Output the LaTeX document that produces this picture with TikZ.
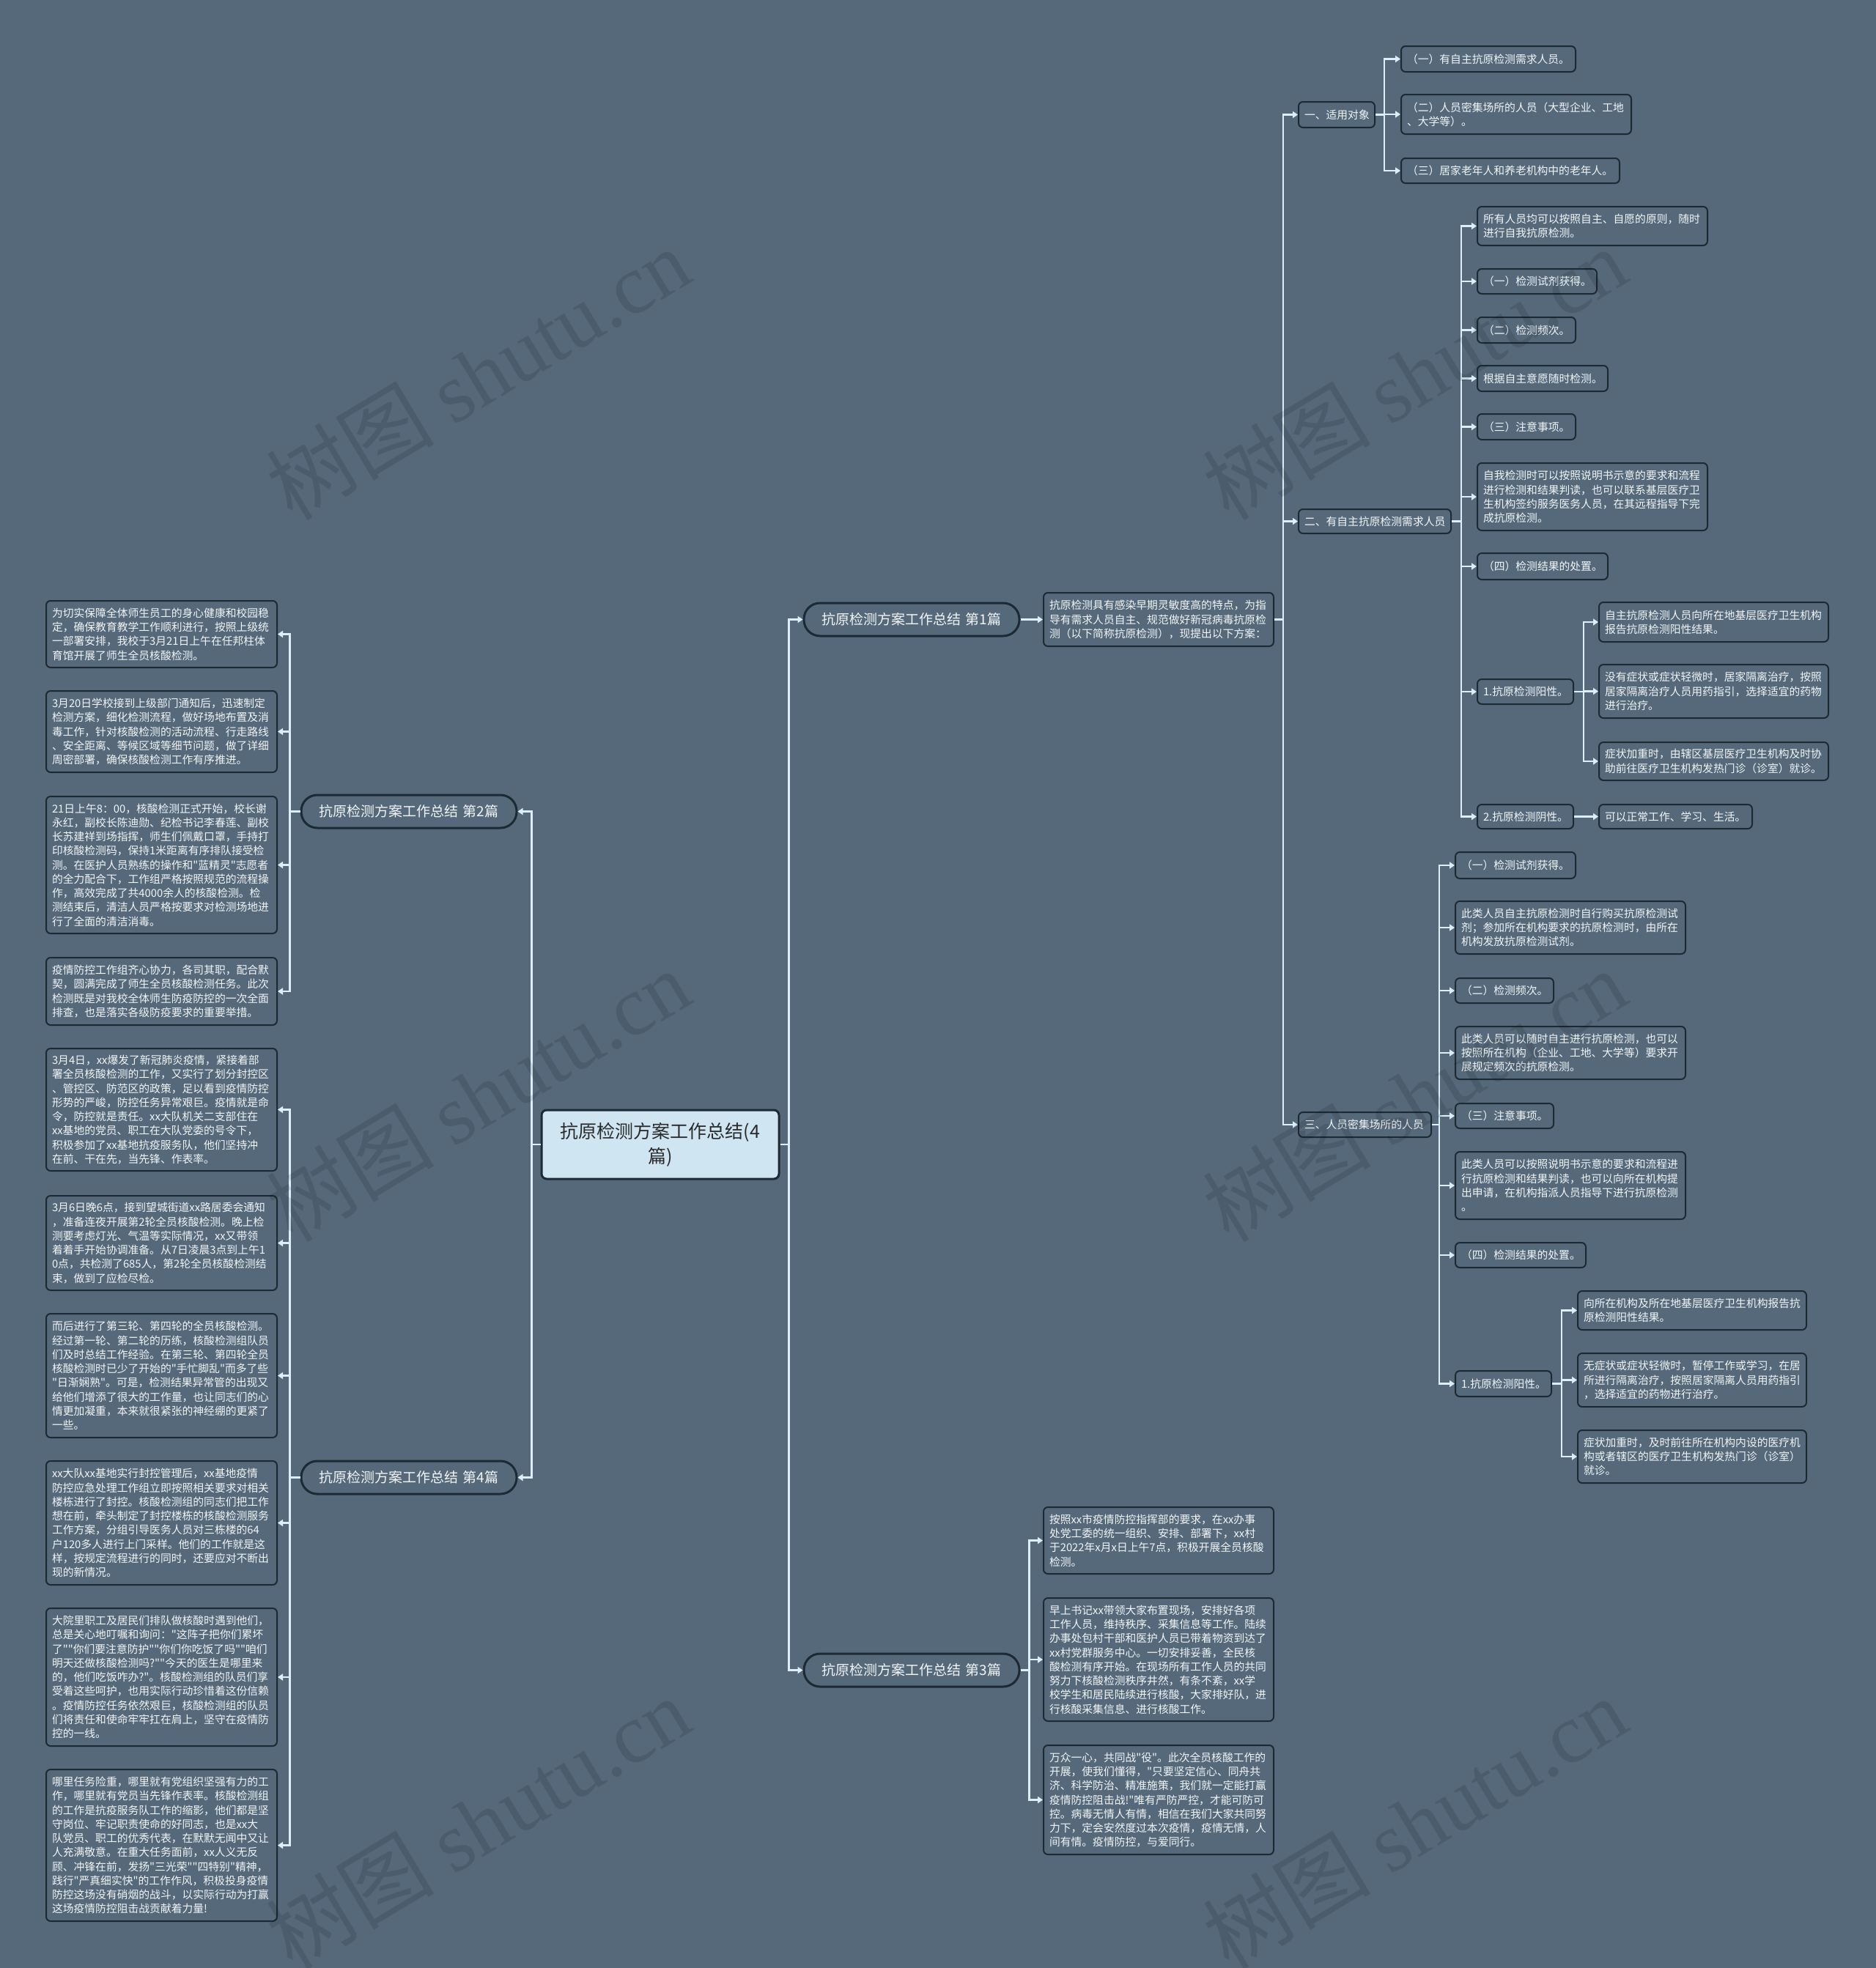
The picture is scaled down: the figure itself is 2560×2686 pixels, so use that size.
\documentclass[tikz,border=0pt]{standalone}
\usepackage{fontspec}
\newfontfamily\cjkmain{Noto Sans CJK SC}
\setmainfont{Noto Sans CJK SC}[Ligatures=TeXOff]
\newfontfamily\wmlatin{Liberation Serif}
\usetikzlibrary{arrows.meta}
\definecolor{bgC}{HTML}{55697A}
\definecolor{boxB}{HTML}{1E2A33}
\definecolor{lineC}{HTML}{DCEFF9}
\definecolor{txtC}{HTML}{F2F5F7}
\definecolor{rootC}{HTML}{CFE5F1}
\definecolor{rootT}{HTML}{2A2A2A}
\tikzset{
 box/.style={draw=boxB, line width=2pt, rounded corners=6pt, fill=bgC, text=txtC, inner xsep=8pt, inner ysep=0pt, align=left, font=\cjkmain\fontsize{14.8pt}{19.25pt}\selectfont},
 pill/.style={draw=boxB, line width=3pt, rounded corners=22pt, fill=bgC, text=txtC, inner xsep=8pt, inner ysep=0pt, align=center, font=\cjkmain\fontsize{19pt}{23pt}\selectfont},
 rootn/.style={draw=boxB, line width=3pt, rounded corners=7pt, fill=rootC, text=rootT, inner xsep=8pt, inner ysep=0pt, align=center, font=\cjkmain\fontsize{25pt}{34pt}\selectfont},
 conn/.style={draw=lineC, line width=2.2pt, -{Triangle[length=7pt,width=9pt]}},
 wm/.style={text=black, text opacity=0.11, inner sep=0pt, font=\cjkmain\fontsize{115pt}{115pt}\selectfont}
}
\newcommand{\nd}[7]{%
 \pgfmathsetmacro{\ndW}{#5-#3}\pgfmathsetmacro{\ndH}{#6-#4}%
 \pgfmathsetmacro{\ndT}{#5-#3-16}%
 \pgfmathsetmacro{\ndX}{(#3+#5)/2}\pgfmathsetmacro{\ndY}{(#4+#6)/2}%
 \node[#1, minimum width=\ndW pt, minimum height=\ndH pt, text width=\ndT pt] (#2) at (\ndX,\ndY) {#7};}
\begin{document}
\begin{tikzpicture}[x=1pt,y=-1pt]
\fill[bgC] (0,0) rectangle (2560,2686);
\useasboundingbox (0,0) rectangle (2560,2686);

% root and branches
\nd{rootn}{root}{739}{1515}{1063}{1609}{抗原检测方案工作总结(4\\篇)}
\nd{pill}{P1}{1097}{823}{1391}{868}{抗原检测方案工作总结 第1篇}
\nd{pill}{P3}{1097}{2257}{1391}{2302}{抗原检测方案工作总结 第3篇}
\nd{pill}{P2}{411}{1085}{705}{1130}{抗原检测方案工作总结 第2篇}
\nd{pill}{P4}{411}{1994}{705}{2039}{抗原检测方案工作总结 第4篇}

% branch 1
\nd{box}{T1}{1424}{809}{1738}{882}{抗原检测具有感染早期灵敏度高的特点，为指\\导有需求人员自主、规范做好新冠病毒抗原检\\测（以下简称抗原检测），现提出以下方案：}
\nd{box}{R1}{1772}{139}{1876}{174}{一、适用对象}
\nd{box}{R1a}{1912}{63}{2150}{98}{（一）有自主抗原检测需求人员。}
\nd{box}{R1b}{1912}{129}{2226}{183}{（二）人员密集场所的人员（大型企业、工地\\、大学等）。}
\nd{box}{R1c}{1912}{216}{2210}{250}{（三）居家老年人和养老机构中的老年人。}
\nd{box}{R2}{1772}{695}{1980}{728}{二、有自主抗原检测需求人员}
\nd{box}{R2a}{2016}{282}{2330}{335}{所有人员均可以按照自主、自愿的原则，随时\\进行自我抗原检测。}
\nd{box}{R2b}{2016}{367}{2179}{401}{（一）检测试剂获得。}
\nd{box}{R2c}{2016}{433}{2150}{468}{（二）检测频次。}
\nd{box}{R2d}{2016}{499}{2194}{534}{根据自主意愿随时检测。}
\nd{box}{R2e}{2016}{565}{2150}{600}{（三）注意事项。}
\nd{box}{R2f}{2016}{632}{2330}{724}{自我检测时可以按照说明书示意的要求和流程\\进行检测和结果判读，也可以联系基层医疗卫\\生机构签约服务医务人员，在其远程指导下完\\成抗原检测。}
\nd{box}{R2g}{2016}{755}{2194}{791}{（四）检测结果的处置。}
\nd{box}{R2h}{2016}{927}{2147}{961}{1.抗原检测阳性。}
\nd{box}{R2ha}{2182}{822}{2495}{876}{自主抗原检测人员向所在地基层医疗卫生机构\\报告抗原检测阳性结果。}
\nd{box}{R2hb}{2182}{907}{2495}{980}{没有症状或症状轻微时，居家隔离治疗，按照\\居家隔离治疗人员用药指引，选择适宜的药物\\进行治疗。}
\nd{box}{R2hc}{2182}{1013}{2495}{1065}{症状加重时，由辖区基层医疗卫生机构及时协\\助前往医疗卫生机构发热门诊（诊室）就诊。}
\nd{box}{R2i}{2016}{1098}{2147}{1131}{2.抗原检测阴性。}
\nd{box}{R2ia}{2182}{1098}{2391}{1131}{可以正常工作、学习、生活。}
\nd{box}{R3}{1772}{1518}{1953}{1552}{三、人员密集场所的人员}
\nd{box}{R3a}{1986}{1163}{2150}{1199}{（一）检测试剂获得。}
\nd{box}{R3b}{1986}{1230}{2300}{1302}{此类人员自主抗原检测时自行购买抗原检测试\\剂；参加所在机构要求的抗原检测时，由所在\\机构发放抗原检测试剂。}
\nd{box}{R3c}{1986}{1335}{2120}{1369}{（二）检测频次。}
\nd{box}{R3d}{1986}{1401}{2300}{1473}{此类人员可以随时自主进行抗原检测，也可以\\按照所在机构（企业、工地、大学等）要求开\\展规定频次的抗原检测。}
\nd{box}{R3e}{1986}{1506}{2120}{1540}{（三）注意事项。}
\nd{box}{R3f}{1986}{1572}{2300}{1664}{此类人员可以按照说明书示意的要求和流程进\\行抗原检测和结果判读，也可以向所在机构提\\出申请，在机构指派人员指导下进行抗原检测\\。}
\nd{box}{R3g}{1986}{1696}{2164}{1730}{（四）检测结果的处置。}
\nd{box}{R3h}{1986}{1871}{2117}{1906}{1.抗原检测阳性。}
\nd{box}{R3ha}{2153}{1762}{2465}{1815}{向所在机构及所在地基层医疗卫生机构报告抗\\原检测阳性结果。}
\nd{box}{R3hb}{2153}{1847}{2465}{1920}{无症状或症状轻微时，暂停工作或学习，在居\\所进行隔离治疗，按照居家隔离人员用药指引\\，选择适宜的药物进行治疗。}
\nd{box}{R3hc}{2153}{1952}{2465}{2024}{症状加重时，及时前往所在机构内设的医疗机\\构或者辖区的医疗卫生机构发热门诊（诊室）\\就诊。}

% branch 3
\nd{box}{M1}{1424}{2057}{1738}{2148}{按照xx市疫情防控指挥部的要求，在xx办事\\处党工委的统一组织、安排、部署下，xx村\\于2022年x月x日上午7点，积极开展全员核酸\\检测。}
\nd{box}{M2}{1424}{2181}{1738}{2349}{早上书记xx带领大家布置现场，安排好各项\\工作人员，维持秩序、采集信息等工作。陆续\\办事处包村干部和医护人员已带着物资到达了\\xx村党群服务中心。一切安排妥善，全民核\\酸检测有序开始。在现场所有工作人员的共同\\努力下核酸检测秩序井然，有条不紊，xx学\\校学生和居民陆续进行核酸，大家排好队，进\\行核酸采集信息、进行核酸工作。}
\nd{box}{M3}{1424}{2382}{1738}{2531}{万众一心，共同战"役"。此次全员核酸工作的\\开展，使我们懂得，"只要坚定信心、同舟共\\济、科学防治、精准施策，我们就一定能打赢\\疫情防控阻击战!"唯有严防严控，才能可防可\\控。病毒无情人有情，相信在我们大家共同努\\力下，定会安然度过本次疫情，疫情无情，人\\间有情。疫情防控，与爱同行。}

% branch 2
\nd{box}{L1}{63}{820}{378}{911}{为切实保障全体师生员工的身心健康和校园稳\\定，确保教育教学工作顺利进行，按照上级统\\一部署安排，我校于3月21日上午在任邦柱体\\育馆开展了师生全员核酸检测。}
\nd{box}{L2}{63}{943}{378}{1054}{3月20日学校接到上级部门通知后，迅速制定\\检测方案，细化检测流程，做好场地布置及消\\毒工作，针对核酸检测的活动流程、行走路线\\、安全距离、等候区域等细节问题，做了详细\\周密部署，确保核酸检测工作有序推进。}
\nd{box}{L3}{63}{1087}{378}{1274}{21日上午8：00，核酸检测正式开始，校长谢\\永红，副校长陈迪勋、纪检书记李春莲、副校\\长苏建祥到场指挥，师生们佩戴口罩，手持打\\印核酸检测码，保持1米距离有序排队接受检\\测。在医护人员熟练的操作和"蓝精灵"志愿者\\的全力配合下，工作组严格按照规范的流程操\\作，高效完成了共4000余人的核酸检测。检\\测结束后，清洁人员严格按要求对检测场地进\\行了全面的清洁消毒。}
\nd{box}{L4}{63}{1307}{378}{1399}{疫情防控工作组齐心协力，各司其职，配合默\\契，圆满完成了师生全员核酸检测任务。此次\\检测既是对我校全体师生防疫防控的一次全面\\排查，也是落实各级防疫要求的重要举措。}

% branch 4
\nd{box}{L5}{63}{1431}{378}{1598}{3月4日，xx爆发了新冠肺炎疫情，紧接着部\\署全员核酸检测的工作，又实行了划分封控区\\、管控区、防范区的政策，足以看到疫情防控\\形势的严峻，防控任务异常艰巨。疫情就是命\\令，防控就是责任。xx大队机关二支部住在\\xx基地的党员、职工在大队党委的号令下，\\积极参加了xx基地抗疫服务队，他们坚持冲\\在前、干在先，当先锋、作表率。}
\nd{box}{L6}{63}{1632}{378}{1761}{3月6日晚6点，接到望城街道xx路居委会通知\\，准备连夜开展第2轮全员核酸检测。晚上检\\测要考虑灯光、气温等实际情况，xx又带领\\着着手开始协调准备。从7日凌晨3点到上午1\\0点，共检测了685人，第2轮全员核酸检测结\\束，做到了应检尽检。}
\nd{box}{L7}{63}{1793}{378}{1962}{而后进行了第三轮、第四轮的全员核酸检测。\\经过第一轮、第二轮的历练，核酸检测组队员\\们及时总结工作经验。在第三轮、第四轮全员\\核酸检测时已少了开始的"手忙脚乱"而多了些\\"日渐娴熟"。可是，检测结果异常管的出现又\\给他们增添了很大的工作量，也让同志们的心\\情更加凝重，本来就很紧张的神经绷的更紧了\\一些。}
\nd{box}{L8}{63}{1994}{378}{2163}{xx大队xx基地实行封控管理后，xx基地疫情\\防控应急处理工作组立即按照相关要求对相关\\楼栋进行了封控。核酸检测组的同志们把工作\\想在前，牵头制定了封控楼栋的核酸检测服务\\工作方案，分组引导医务人员对三栋楼的64\\户120多人进行上门采样。他们的工作就是这\\样，按规定流程进行的同时，还要应对不断出\\现的新情况。}
\nd{box}{L9}{63}{2195}{378}{2383}{大院里职工及居民们排队做核酸时遇到他们，\\总是关心地叮嘱和询问："这阵子把你们累坏\\了""你们要注意防护""你们你吃饭了吗""咱们\\明天还做核酸检测吗?""今天的医生是哪里来\\的，他们吃饭咋办?"。核酸检测组的队员们享\\受着这些呵护，也用实际行动珍惜着这份信赖\\。疫情防控任务依然艰巨，核酸检测组的队员\\们将责任和使命牢牢扛在肩上，坚守在疫情防\\控的一线。}
\nd{box}{L10}{63}{2415}{378}{2622}{哪里任务险重，哪里就有党组织坚强有力的工\\作，哪里就有党员当先锋作表率。核酸检测组\\的工作是抗疫服务队工作的缩影，他们都是坚\\守岗位、牢记职责使命的好同志，也是xx大\\队党员、职工的优秀代表，在默默无闻中又让\\人充满敬意。在重大任务面前，xx人义无反\\顾、冲锋在前，发扬"三光荣""四特别"精神，\\践行"严真细实快"的工作作风，积极投身疫情\\防控这场没有硝烟的战斗，以实际行动为打赢\\这场疫情防控阻击战贡献着力量!}

% connectors
\foreach \c in {P1,P3} \draw[conn] (root.east) -- ++(12,0) |- (\c.west);
\foreach \c in {P2,P4} \draw[conn] (root.west) -- ++(-12,0) |- (\c.east);
\draw[conn] (P1.east) -- (T1.west);
\foreach \c in {R1,R2,R3} \draw[conn] (T1.east) -- ++(12,0) |- (\c.west);
\foreach \c in {R1a,R1b,R1c} \draw[conn] (R1.east) -- ++(12,0) |- (\c.west);
\foreach \c in {R2a,R2b,R2c,R2d,R2e,R2f,R2g,R2h,R2i} \draw[conn] (R2.east) -- ++(13,0) |- (\c.west);
\foreach \c in {R2ha,R2hb,R2hc} \draw[conn] (R2h.east) -- ++(13,0) |- (\c.west);
\draw[conn] (R2i.east) -- (R2ia.west);
\foreach \c in {R3a,R3b,R3c,R3d,R3e,R3f,R3g,R3h} \draw[conn] (R3.east) -- ++(10,0) |- (\c.west);
\foreach \c in {R3ha,R3hb,R3hc} \draw[conn] (R3h.east) -- ++(13,0) |- (\c.west);
\foreach \c in {M1,M2,M3} \draw[conn] (P3.east) -- ++(12,0) |- (\c.west);
\foreach \c in {L1,L2,L3,L4} \draw[conn] (P2.west) -- ++(-14,0) |- (\c.east);
\foreach \c in {L5,L6,L7,L8,L9,L10} \draw[conn] (P4.west) -- ++(-14,0) |- (\c.east);

% watermark
\foreach \wx/\wy in {652/510,1930/510,652/1495,1930/1495,652/2488,1930/2488}
  \node[wm, rotate=31] at (\wx,\wy) {树图 {\wmlatin shutu.cn}};
\end{tikzpicture}
\end{document}
